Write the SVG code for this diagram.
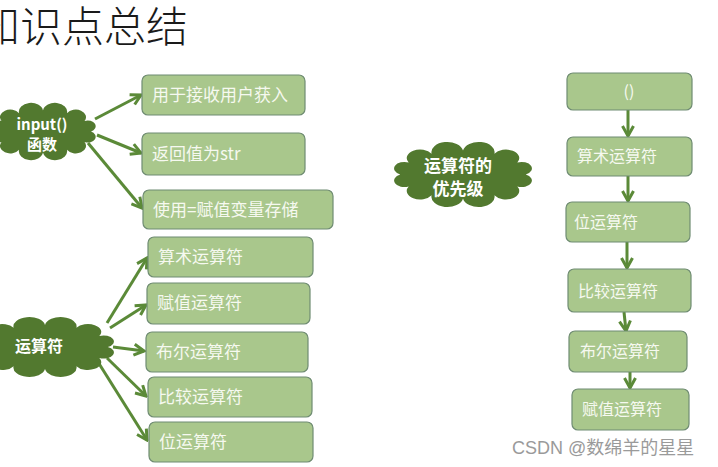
<svg xmlns="http://www.w3.org/2000/svg" xmlns:xlink="http://www.w3.org/1999/xlink" width="718" height="467" viewBox="0 0 718 467">
<style>
.box{fill:#a9c78c;stroke:#6f8c72;stroke-width:1.2}
.bt{font-family:"Noto Sans CJK SC","Liberation Sans",sans-serif;font-size:16px;fill:#f6f9f0}
.bl{font-size:17px}
.ct{font-family:"Noto Sans CJK SC","Liberation Sans",sans-serif;font-size:15px;font-weight:bold;fill:#ffffff;text-anchor:middle}
.cloud{fill:#52792f}
.conn line{stroke:#5b8a38;stroke-width:3;marker-end:url(#ah)}
</style>
<defs>
<marker id="ah" viewBox="0 0 14 14" refX="12" refY="7" markerWidth="14" markerHeight="14" orient="auto" markerUnits="userSpaceOnUse">
<path d="M2,1.5 L12,7 L2,12.5" fill="none" stroke="#5b8a38" stroke-width="3" stroke-linejoin="miter"/>
</marker>
<path id="cloud" d="M40,0 A1,1 0 0 1 34.6,12 A1,1 0 0 1 20,20.8 A1,1 0 0 1 0,24 A1,1 0 0 1 -20,20.8 A1,1 0 0 1 -34.6,12 A1,1 0 0 1 -40,0 A1,1 0 0 1 -34.6,-12 A1,1 0 0 1 -20,-20.8 A1,1 0 0 1 0,-24 A1,1 0 0 1 20,-20.8 A1,1 0 0 1 34.6,-12 A1,1 0 0 1 40,0 Z"/>
</defs>
<rect width="718" height="467" fill="#ffffff"/>
<text x="-22" y="42" font-family="'Noto Sans CJK SC',sans-serif" font-size="42" font-weight="300" fill="#1a1a1a">知识点总结</text>

<g id="connectors" class="conn">
<line x1="95" y1="119" x2="141" y2="95"/>
<line x1="97" y1="135" x2="141" y2="153"/>
<line x1="88" y1="143" x2="142" y2="208"/>
<line x1="107" y1="323" x2="147" y2="258"/>
<line x1="110" y1="328" x2="146" y2="305"/>
<line x1="113" y1="347" x2="144" y2="351"/>
<line x1="107" y1="358" x2="146" y2="396"/>
<line x1="98" y1="362" x2="147" y2="440"/>
<line x1="628" y1="110" x2="628" y2="136"/>
<line x1="628" y1="176" x2="628" y2="201"/>
<line x1="627" y1="242" x2="627" y2="268"/>
<line x1="624" y1="312" x2="626" y2="331"/>
<line x1="630" y1="372" x2="630" y2="388"/>
</g>

<g id="cloud-input">
<use xlink:href="#cloud" href="#cloud" class="cloud" transform="translate(43,131.5) scale(1.2,0.88)"/>
<text class="ct" x="42" y="130">input()</text>
<text class="ct" x="42" y="150">函数</text>
</g>
<g id="cloud-ops">
<use xlink:href="#cloud" href="#cloud" class="cloud" transform="translate(45,347) scale(1.57,0.92)"/>
<text class="ct" x="39" y="352" style="font-size:16px">运算符</text>
</g>
<g id="cloud-prio">
<use xlink:href="#cloud" href="#cloud" class="cloud" transform="translate(463,174.5) scale(1.57,1.0)"/>
<text class="ct" x="458" y="172" style="font-size:17px">运算符的</text>
<text class="ct" x="458" y="195" style="font-size:17px">优先级</text>
</g>

<g id="n-input1"><rect class="box" x="142" y="75" width="163" height="40" rx="6"/><text class="bt bl" x="152" y="101">用于接收用户获入</text></g>
<g id="n-input2"><rect class="box" x="142" y="133" width="163" height="42" rx="6"/><text class="bt bl" x="152" y="160">返回值为str</text></g>
<g id="n-input3"><rect class="box" x="143" y="190" width="190" height="39" rx="6"/><text class="bt bl" x="153" y="216">使用=赋值变量存储</text></g>

<g id="n-op1"><rect class="box" x="148" y="237" width="165" height="40" rx="6"/><text class="bt bl" x="158" y="263">算术运算符</text></g>
<g id="n-op2"><rect class="box" x="147" y="283" width="163" height="41" rx="6"/><text class="bt bl" x="157" y="309">赋值运算符</text></g>
<g id="n-op3"><rect class="box" x="146" y="332" width="162" height="40" rx="6"/><text class="bt bl" x="156" y="358">布尔运算符</text></g>
<g id="n-op4"><rect class="box" x="148" y="377" width="164" height="40" rx="6"/><text class="bt bl" x="158" y="403">比较运算符</text></g>
<g id="n-op5"><rect class="box" x="149" y="422" width="164" height="40" rx="6"/><text class="bt bl" x="159" y="448">位运算符</text></g>

<g id="p1"><rect class="box" x="567" y="73" width="125" height="37" rx="6"/><text class="bt" x="629" y="97" text-anchor="middle">()</text></g>
<g id="p2"><rect class="box" x="567" y="137" width="125" height="39" rx="6"/><text class="bt" x="577" y="162">算术运算符</text></g>
<g id="p3"><rect class="box" x="566" y="202" width="124" height="40" rx="6"/><text class="bt" x="574" y="228">位运算符</text></g>
<g id="p4"><rect class="box" x="568" y="269" width="123" height="43" rx="6"/><text class="bt" x="578" y="297">比较运算符</text></g>
<g id="p5"><rect class="box" x="569" y="331" width="118" height="41" rx="6"/><text class="bt" x="580" y="357">布尔运算符</text></g>
<g id="p6"><rect class="box" x="572" y="389" width="117" height="41" rx="6"/><text class="bt" x="582" y="415">赋值运算符</text></g>

<text x="512" y="454" font-family="'Liberation Sans','Noto Sans CJK SC',sans-serif" font-size="18" fill="#9a9a9a">CSDN @数绵羊的星星</text>
</svg>
